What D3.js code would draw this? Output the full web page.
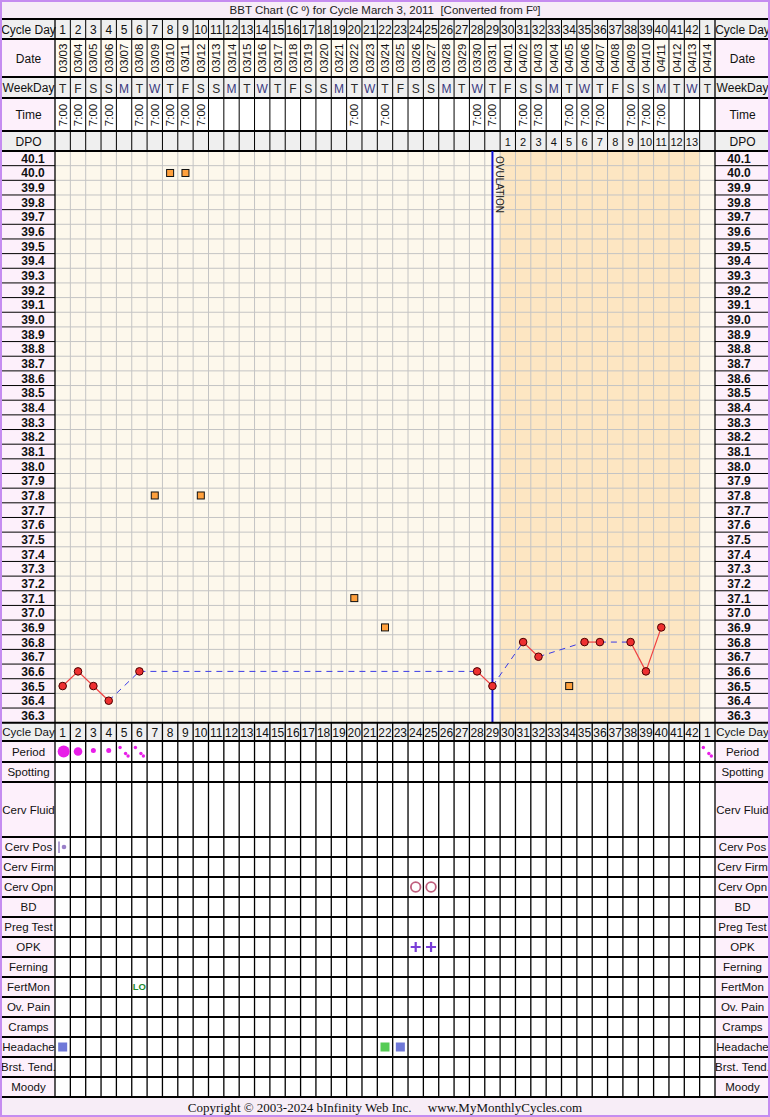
<!DOCTYPE html>
<html><head><meta charset="utf-8">
<script src="https://cdn.jsdelivr.net/npm/d3@7"></script>
<style>body{margin:0;background:#fff}svg{display:block;font-family:"Liberation Sans",Arial,sans-serif}text{white-space:pre}</style>
</head><body><svg id="c" width="770" height="1117"></svg>
<script>
// ---------------- DATA ----------------
const cycleDays = ["1","2","3","4","5","6","7","8","9","10","11","12","13","14","15","16","17","18","19","20","21","22","23","24","25","26","27","28","29","30","31","32","33","34","35","36","37","38","39","40","41","42","1"];
const dates = ["03/03","03/04","03/05","03/06","03/07","03/08","03/09","03/10","03/11","03/12","03/13","03/14","03/15","03/16","03/17","03/18","03/19","03/20","03/21","03/22","03/23","03/24","03/25","03/26","03/27","03/28","03/29","03/30","03/31","04/01","04/02","04/03","04/04","04/05","04/06","04/07","04/08","04/09","04/10","04/11","04/12","04/13","04/14"];
const weekdays = ["T","F","S","S","M","T","W","T","F","S","S","M","T","W","T","F","S","S","M","T","W","T","F","S","S","M","T","W","T","F","S","S","M","T","W","T","F","S","S","M","T","W","T"];
const times = ["7:00","7:00","7:00","7:00","","7:00","7:00","7:00","7:00","7:00","","","","","","","","","","7:00","","7:00","","","","","","7:00","7:00","","7:00","7:00","","7:00","7:00","7:00","","7:00","7:00","7:00","","",""];
const dpo = ["","","","","","","","","","","","","","","","","","","","","","","","","","","","","","1","2","3","4","5","6","7","8","9","10","11","12","13",""];
const tempTicks = ["40.1","40.0","39.9","39.8","39.7","39.6","39.5","39.4","39.3","39.2","39.1","39.0","38.9","38.8","38.7","38.6","38.5","38.4","38.3","38.2","38.1","38.0","37.9","37.8","37.7","37.6","37.5","37.4","37.3","37.2","37.1","37.0","36.9","36.8","36.7","36.6","36.5","36.4","36.3"];
// temperature per cycle-day index (1..43); null = not recorded
const temps = [36.5,36.6,36.5,36.4,null,36.6,null,null,null,null,null,null,null,null,null,null,null,null,null,null,null,null,null,null,null,null,null,36.6,36.5,null,36.8,36.7,null,null,36.8,36.8,null,36.8,36.6,36.9,null,null,null];
const discardDays  = [7, 8, 9, 10, 20, 22, 34];
const discardTemps = [37.8, 40.0, 40.0, 37.8, 37.1, 36.9, 36.5];
const ovulationDay = 29;
const periodDays  = [1, 2, 3, 4, 5, 6, 43];
const periodFlow  = ["heavy","medium","light","light","spot","spot","spot"];
const cervPosDays = [1];
const cervOpnDays = [24, 25];
const opkDays = [24, 25];
const fertMonDays = [6];
const fertMonVals = ["LO"];
const headacheDays = [1, 22, 23];
const headacheColors = ["#6f78d8", "#55cc55", "#6f78d8"];
const headerLabels = ["Cycle Day","Date","WeekDay","Time","DPO"];
const bottomLabels = ["Cycle Day","Period","Spotting","Cerv Fluid","Cerv Pos","Cerv Firm","Cerv Opn","BD","Preg Test","OPK","Ferning","FertMon","Ov. Pain","Cramps","Headache","Brst. Tend.","Moody"];
const titleText = "BBT Chart (C \u00ba) for Cycle March 3, 2011\u00a0\u00a0[Converted from F\u00ba]";
const footerText = "Copyright \u00a9 2003-2024 bInfinity Web Inc.\u00a0\u00a0\u00a0\u00a0\u00a0www.MyMonthlyCycles.com";

// ---------------- LAYOUT ----------------
const W = 770, H = 1117;
const X0 = 55, X1 = 715;
const svg = d3.select("#c");
const n = cycleDays.length;
const x = d3.scaleBand().domain(d3.range(1, n + 1)).range([X0, X1]);
const bw = x.bandwidth();
const cx = d => x(d) + bw / 2;
const TY0 = 151, TY1 = 722.7;
const y = d3.scaleLinear().domain([40.15, 36.25]).range([TY0, TY1]);

const PINK = "#fdf0fb", GRAY = "#efefef", CREAM = "#fdf8ec", ORANGE = "#fde6c2", LAV = "#f7edf7", PURPLE = "#c58cf0";

svg.append("rect").attr("width", W).attr("height", H).attr("fill", "#fff");
// title bar
svg.append("rect").attr("x", 0).attr("y", 0).attr("width", W).attr("height", 19).attr("fill", LAV);
svg.append("text").attr("x", 385).attr("y", 14).attr("text-anchor", "middle").attr("font-size", 11.5).attr("fill", "#222").text(titleText);

// header rows
const hRows = [
  {y0: 19, y1: 39, bg: GRAY, lbg: GRAY},
  {y0: 39, y1: 77, bg: "#fffbf1", lbg: PINK},
  {y0: 77, y1: 98, bg: GRAY, lbg: GRAY},
  {y0: 98, y1: 131, bg: "#fff", lbg: PINK},
  {y0: 131, y1: 151, bg: GRAY, lbg: GRAY}
];
hRows.forEach((r, i) => {
  svg.append("rect").attr("x", X0).attr("y", r.y0).attr("width", X1 - X0).attr("height", r.y1 - r.y0).attr("fill", r.bg);
  [[0, X0], [X1, W]].forEach(([a, b]) => {
    svg.append("rect").attr("x", a).attr("y", r.y0).attr("width", b - a).attr("height", r.y1 - r.y0).attr("fill", r.lbg);
    svg.append("text").attr("x", (a + b) / 2 + (a === 0 ? 1 : 0)).attr("y", (r.y0 + r.y1) / 2 + 4.5)
      .attr("text-anchor", "middle").attr("font-size", 12).attr("fill", "#111").text(headerLabels[i]);
  });
});
const days = d3.range(1, n + 1);
// cycle day numbers
svg.append("g").selectAll("text").data(days).join("text")
  .attr("x", d => cx(d)).attr("y", 34).attr("text-anchor", "middle").attr("font-size", 12).attr("fill", "#111")
  .text(d => cycleDays[d - 1]);
// dates rotated
svg.append("g").selectAll("text").data(days).join("text")
  .attr("transform", d => `translate(${cx(d) + 4},58) rotate(-90)`).attr("text-anchor", "middle")
  .attr("font-size", 11.5).attr("fill", "#111").text(d => dates[d - 1]);
// weekdays
svg.append("g").selectAll("text").data(days).join("text")
  .attr("x", d => cx(d)).attr("y", 92.5).attr("text-anchor", "middle").attr("font-size", 12)
  .attr("fill", d => (weekdays[d-1] === "M" || weekdays[d-1] === "W") ? "#3a3a80" : "#2a2a2a").text(d => weekdays[d - 1]);
// times
svg.append("g").selectAll("text").data(days.filter(d => times[d - 1])).join("text")
  .attr("transform", d => `translate(${cx(d) + 4},115) rotate(-90)`).attr("text-anchor", "middle")
  .attr("font-size", 11.5).attr("fill", "#111").text(d => times[d - 1]);
// dpo
svg.append("g").selectAll("text").data(days.filter(d => dpo[d - 1])).join("text")
  .attr("x", d => cx(d)).attr("y", 146).attr("text-anchor", "middle").attr("font-size", 11).attr("fill", "#111")
  .text(d => dpo[d - 1]);
// header grid lines
svg.append("g").selectAll("line").data(d3.range(1, n)).join("line")
  .attr("x1", d => x(d) + bw).attr("x2", d => x(d) + bw).attr("y1", 19).attr("y2", 151)
  .attr("stroke", "#000").attr("stroke-width", 1);
[19, 39, 77, 98, 131].forEach(v => svg.append("line").attr("x1", 0).attr("x2", W).attr("y1", v).attr("y2", v).attr("stroke", "#000").attr("stroke-width", 2));

// ---------------- TEMPERATURE AREA ----------------
svg.append("rect").attr("x", X0).attr("y", TY0).attr("width", X1 - X0).attr("height", TY1 - TY0).attr("fill", CREAM);
const postDays = days.filter(d => dpo[d - 1]);
svg.append("rect").attr("x", x(postDays[0])).attr("y", TY0).attr("width", x(postDays[postDays.length - 1]) + bw - x(postDays[0]))
  .attr("height", TY1 - TY0).attr("fill", ORANGE);
const step = (y(36.3) - y(36.4));
const rowEdges = tempTicks.map(t => y(+t) - step / 2).concat([TY1]);
svg.append("g").selectAll("line").data(rowEdges.slice(1, -1)).join("line")
  .attr("x1", X0).attr("x2", X1).attr("y1", d => d).attr("y2", d => d).attr("stroke", "#c4c4c4").attr("stroke-width", 1);
svg.append("g").selectAll("line").data(d3.range(1, n)).join("line")
  .attr("x1", d => x(d) + bw).attr("x2", d => x(d) + bw).attr("y1", TY0).attr("y2", TY1)
  .attr("stroke", "#c4c4c4").attr("stroke-width", 1);
// temp label columns
[[0, X0, 33], [X1, W, 739]].forEach(([a, b, tx]) => {
  svg.append("rect").attr("x", a).attr("y", TY0).attr("width", b - a).attr("height", TY1 - TY0).attr("fill", PINK);
  svg.append("g").selectAll("text").data(tempTicks).join("text")
    .attr("x", tx).attr("y", t => y(+t) + 4.5).attr("text-anchor", "middle").attr("font-size", 12).attr("font-weight", "bold")
    .attr("fill", "#111").text(t => t);
  svg.append("g").selectAll("line").data(rowEdges.slice(1, -1)).join("line")
    .attr("x1", a).attr("x2", b).attr("y1", d => d).attr("y2", d => d).attr("stroke", "#000").attr("stroke-width", 1);
});
svg.append("line").attr("x1", 0).attr("x2", W).attr("y1", TY0).attr("y2", TY0).attr("stroke", "#000").attr("stroke-width", 2);

// ovulation line
svg.append("line").attr("x1", cx(ovulationDay)).attr("x2", cx(ovulationDay)).attr("y1", TY0).attr("y2", TY1)
  .attr("stroke", "#1010d8").attr("stroke-width", 2);
svg.append("text").attr("transform", `translate(${cx(ovulationDay) + 4},156) rotate(90)`).attr("font-size", 10)
  .attr("fill", "#222").text("OVULATION");

// temperature lines
const pts = days.filter(d => temps[d - 1] != null).map(d => ({d, t: temps[d - 1]}));
const segs = d3.pairs(pts);
svg.append("g").selectAll("line").data(segs).join("line")
  .attr("x1", s => cx(s[0].d)).attr("y1", s => y(s[0].t)).attr("x2", s => cx(s[1].d)).attr("y2", s => y(s[1].t))
  .attr("stroke", s => s[1].d - s[0].d === 1 ? "#f04040" : "#3a3ae6")
  .attr("stroke-width", s => s[1].d - s[0].d === 1 ? 1.2 : 1)
  .attr("stroke-dasharray", s => s[1].d - s[0].d === 1 ? null : "6,5");
// discarded temps
svg.append("g").selectAll("rect").data(discardDays.map((d, i) => ({d, t: discardTemps[i]}))).join("rect")
  .attr("x", p => cx(p.d) - 3.5).attr("y", p => y(p.t) - 3.5).attr("width", 7).attr("height", 7)
  .attr("fill", "#ffa03c").attr("stroke", "#111").attr("stroke-width", 1);
// points
svg.append("g").selectAll("circle").data(pts).join("circle")
  .attr("cx", p => cx(p.d)).attr("cy", p => y(p.t)).attr("r", 3.8)
  .attr("fill", "#ee3030").attr("stroke", "#4a0000").attr("stroke-width", 1);

// ---------------- BOTTOM SECTION ----------------
const bHeights = [18.3, 21, 20, 55, 20, 20, 20, 20, 20, 20, 20, 20, 20, 20, 20, 20, 20];
let acc = TY1;
const bRows = bHeights.map((h, i) => { const r = {y0: acc, y1: acc + h, label: bottomLabels[i]}; acc += h; return r; });
const rowByLabel = {}; bRows.forEach(r => rowByLabel[r.label] = r);
const BY1 = acc;
bRows.forEach((r, i) => {
  svg.append("rect").attr("x", X0).attr("y", r.y0).attr("width", X1 - X0).attr("height", r.y1 - r.y0).attr("fill", i === 0 ? GRAY : "#fff");
  [[0, X0], [X1, W]].forEach(([a, b]) => {
    svg.append("rect").attr("x", a).attr("y", r.y0).attr("width", b - a).attr("height", r.y1 - r.y0).attr("fill", i === 0 ? GRAY : PINK);
    svg.append("text").attr("x", (a + b) / 2 + (a === 0 ? 1 : 0)).attr("y", (r.y0 + r.y1) / 2 + 4.3)
      .attr("text-anchor", "middle").attr("font-size", 11.5).attr("fill", "#111").text(r.label);
  });
});
svg.append("g").selectAll("text").data(days).join("text")
  .attr("x", d => cx(d)).attr("y", bRows[0].y1 - 4.5).attr("text-anchor", "middle").attr("font-size", 12).attr("fill", "#111")
  .text(d => cycleDays[d - 1]);
svg.append("g").selectAll("line").data(d3.range(1, n)).join("line")
  .attr("x1", d => x(d) + bw).attr("x2", d => x(d) + bw).attr("y1", TY1).attr("y2", BY1)
  .attr("stroke", "#000").attr("stroke-width", 1.3);
bRows.forEach(r => svg.append("line").attr("x1", 0).attr("x2", W).attr("y1", r.y0).attr("y2", r.y0).attr("stroke", "#000").attr("stroke-width", 2));
svg.append("line").attr("x1", 0).attr("x2", W).attr("y1", BY1).attr("y2", BY1).attr("stroke", "#000").attr("stroke-width", 2);
// label column separators
[X0, X1].forEach(v => svg.append("line").attr("x1", v).attr("x2", v).attr("y1", 19).attr("y2", BY1).attr("stroke", "#000").attr("stroke-width", 1.3));

// period
const pr = rowByLabel["Period"], pmy = (pr.y0 + pr.y1) / 2;
const pg = svg.append("g").attr("fill", "#e81ee8");
periodDays.forEach((d, i) => {
  const f = periodFlow[i];
  if (f === "spot") {
    [[-4, -4], [1.5, 2], [4, 4.5]].forEach(([dx, dy]) => {
      pg.append("circle").attr("cx", cx(d) + dx).attr("cy", pmy + dy).attr("r", 1.7);
    });
  } else {
    const r = f === "heavy" ? 6 : f === "medium" ? 4.3 : 2.5;
    pg.append("circle").attr("cx", cx(d) + (f === "heavy" ? 1 : 0)).attr("cy", pmy + (f === "light" ? -1 : 0)).attr("r", r);
  }
});
// cerv pos
const cp = rowByLabel["Cerv Pos"], cpy = (cp.y0 + cp.y1) / 2;
cervPosDays.forEach(d => {
  svg.append("line").attr("x1", x(d) + 4).attr("x2", x(d) + 4).attr("y1", cpy - 5.5).attr("y2", cpy + 6).attr("stroke", "#9a80c8").attr("stroke-width", 1.5);
  svg.append("circle").attr("cx", x(d) + 9).attr("cy", cpy).attr("r", 2.3).attr("fill", "#9a80c8");
});
// cerv opn
const co = rowByLabel["Cerv Opn"], coy = (co.y0 + co.y1) / 2;
svg.append("g").selectAll("circle").data(cervOpnDays).join("circle")
  .attr("cx", d => cx(d)).attr("cy", coy).attr("r", 4.8).attr("fill", "none").attr("stroke", "#c0607e").attr("stroke-width", 1.8);
// opk
const ok = rowByLabel["OPK"], oky = (ok.y0 + ok.y1) / 2;
opkDays.forEach(d => {
  svg.append("path").attr("d", `M${cx(d) - 5},${oky}H${cx(d) + 5}M${cx(d)},${oky - 5}V${oky + 5}`)
    .attr("stroke", "#7a3ed8").attr("stroke-width", 2.2);
});
// fertmon
const fm = rowByLabel["FertMon"], fmy = (fm.y0 + fm.y1) / 2;
svg.append("g").selectAll("text").data(fertMonDays).join("text")
  .attr("x", d => cx(d)).attr("y", fmy + 3.3).attr("text-anchor", "middle").attr("font-size", 9.5).attr("font-weight", "bold")
  .attr("fill", "#1e8a2e").text((d, i) => fertMonVals[i]);
// headache
const hd = rowByLabel["Headache"], hdy = (hd.y0 + hd.y1) / 2;
svg.append("g").selectAll("rect").data(headacheDays).join("rect")
  .attr("x", d => cx(d) - 4.5).attr("y", hdy - 4.5).attr("width", 9).attr("height", 9)
  .attr("fill", (d, i) => headacheColors[i]);

// footer
svg.append("rect").attr("x", 0).attr("y", BY1 + 1).attr("width", W).attr("height", H - BY1 - 1).attr("fill", LAV);
svg.append("text").attr("x", 385).attr("y", 1112).attr("text-anchor", "middle").attr("font-size", 13)
  .attr("font-family", "'Liberation Serif','Times New Roman',serif").attr("fill", "#111").text(footerText);

// outer border
svg.append("rect").attr("x", 1).attr("y", 1).attr("width", W - 2).attr("height", H - 2).attr("fill", "none")
  .attr("stroke", PURPLE).attr("stroke-width", 2);
</script></body></html>
